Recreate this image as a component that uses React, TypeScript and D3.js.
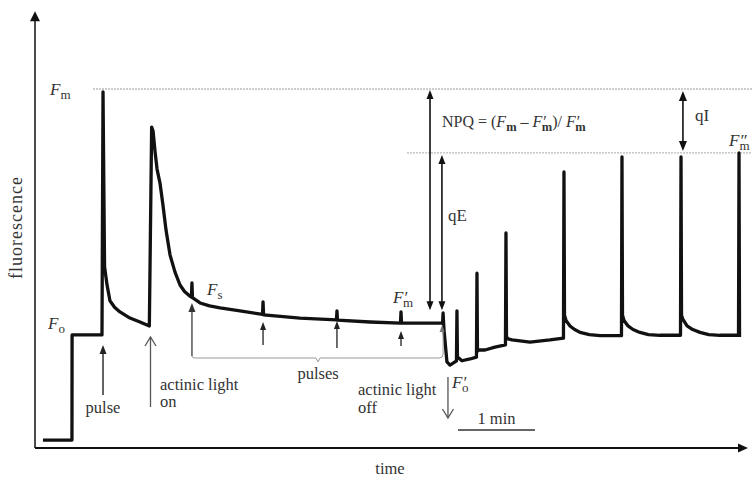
import React from "react";
import * as d3 from "d3";

// ---- data (time in s, fluorescence in % of Fm) ----
const traceT = [
  6.2, 28.8, 28.9, 52.2, 53.0, 54.2, 56.1, 58.4, 62.0, 66.2, 74.0, 81.8, 89.1,
  90.9, 92.0, 93.5, 95.1, 97.4, 99.7, 102.1, 105.2, 109.1, 113.0, 116.5, 120.8,
  121.9, 122.3, 122.7, 128.6, 136.0, 144.2, 159.7, 177.3, 177.7, 178.1, 206.5,
  234.9, 235.3, 235.7, 261.0, 284.8, 285.2, 285.6, 317.6, 318.0, 318.7,
  321.0, 323.4, 327.3, 328.4, 328.8, 329.2, 330.0, 332.7, 339.0, 344.0,
  344.4, 344.8, 346.0, 350.7, 358.4, 366.6, 367.0, 367.4, 368.6, 371.7,
  385.7, 401.3, 411.8, 412.2, 412.6, 413.8, 416.9, 420.5, 424.7, 432.0, 440.3, 457.0,
  457.4, 457.8, 459.0, 462.1, 466.0, 471.4, 478.0, 487.0, 503.0, 503.4, 503.8, 504.9,
  508.1, 512.5, 518.2, 525.0, 533.8, 548.2, 548.6, 549.0,
];
const traceF = [
  2.2, 2.2, 31.5, 31.5, 99.2, 50.5, 45.5, 41.0, 39.2, 37.9, 36.2, 35.1, 34.0,
  89.4, 88.3, 82.7, 77.7, 73.8, 67.7, 60.7, 53.8, 49.0, 45.4, 43.6, 42.3,
  42.0, 46.0, 41.9, 40.4, 39.6, 39.0, 38.2, 37.2, 40.7, 37.1, 36.2,
  35.7, 38.2, 35.6, 35.1, 34.8, 37.9, 34.8, 34.8, 37.6, 33.0,
  24.0, 23.1, 24.0, 24.2, 38.2, 25.0, 25.1, 24.3, 24.8, 25.3,
  48.7, 27.0, 27.3, 27.3, 28.1, 28.7, 59.9, 31.0, 30.4, 30.1,
  29.5, 30.1, 30.6, 76.9, 37.0, 35.5, 34.0, 33.0, 32.2, 31.6, 31.3, 31.3,
  81.1, 37.0, 35.5, 34.0, 33.0, 32.2, 31.6, 31.4, 31.4, 81.1, 37.0, 35.8,
  34.0, 33.0, 32.2, 31.6, 31.4, 31.4, 82.2, 30.9,
];

const levelFm = 100;
const levelFm2 = 82.2;
const tMax = 555.6;
const fMax = 121.4;

const pulseTimes = [53.0, 122.3, 177.7, 235.3, 285.2, 318.0];
const actinicOnT = 90.0;
const actinicOffT = 321.8;
const scaleBarStart = 329.6;
const scaleBarLen = 60;

const W = 752;
const H = 477;

const x = d3.scaleLinear().domain([0, tMax]).range([35, 748]);
const y = d3.scaleLinear().domain([0, levelFm]).range([448, 89]);

const serif = "'Liberation Serif', 'DejaVu Serif', serif";
const txt = "#333";
const grey = "#555";

function FilledHead({ x0, y0, dir, w = 7, l = 9, color = "#111" }: any) {
  let d = "";
  if (dir === "up") d = `M${x0},${y0} L${x0 - w / 2},${y0 + l} L${x0 + w / 2},${y0 + l} Z`;
  if (dir === "down") d = `M${x0},${y0} L${x0 - w / 2},${y0 - l} L${x0 + w / 2},${y0 - l} Z`;
  if (dir === "right") d = `M${x0},${y0} L${x0 - l},${y0 - w / 2} L${x0 - l},${y0 + w / 2} Z`;
  return <path d={d} fill={color} />;
}

function OpenHead({ x0, y0, dir, w = 11, l = 9, color = grey }: any) {
  const s = dir === "up" ? 1 : -1;
  const d = `M${x0 - w / 2},${y0 + s * l} L${x0},${y0} L${x0 + w / 2},${y0 + s * l}`;
  return <path d={d} fill="none" stroke={color} strokeWidth={1.3} />;
}

function Sym({ x0, y0, sub, prime = "", size = 17, subSize = 13, subDx = 0 }: any) {
  return (
    <text x={x0} y={y0} fontFamily={serif} fontSize={size} fill={txt}>
      <tspan fontStyle="italic">F{prime}</tspan>
      <tspan fontSize={subSize} dy={4} dx={subDx}>{sub}</tspan>
    </text>
  );
}

export default function App() {
  const pts = traceT.map((t, i) => [t, traceF[i]] as [number, number]);
  const line = d3
    .line<[number, number]>()
    .x((d) => x(d[0]))
    .y((d) => y(d[1]))
    .curve(d3.curveLinear);

  const xa0 = x(0);
  const ya0 = y(0);
  const yTop = y(fMax);
  const xEnd = x(tMax);

  const px = pulseTimes.map((t) => x(t));
  const npqX = x(307.8);
  const qeX = x(317.1);
  const qiX = x(504.9);
  const arrowBottom = y(38.4);

  const braceY = 358;

  return (
    <svg width={W} height={H} style={{ position: "absolute", left: 0, top: 0, background: "#fff" }}>
      {/* reference dotted lines */}
      <line x1={93} x2={W} y1={y(levelFm)} y2={y(levelFm)} stroke="#999" strokeWidth={1} strokeDasharray="2 1" />
      <line x1={407} x2={W} y1={y(levelFm2)} y2={y(levelFm2)} stroke="#aaa" strokeWidth={1} strokeDasharray="2 1" />

      {/* axes */}
      <line x1={xa0} x2={xa0} y1={ya0} y2={yTop + 8} stroke="#111" strokeWidth={1.5} />
      <FilledHead x0={xa0} y0={yTop - 1} dir="up" w={10} l={10} />
      <line x1={xa0} x2={xEnd - 8} y1={ya0} y2={ya0} stroke="#111" strokeWidth={1.8} />
      <FilledHead x0={xEnd} y0={ya0} dir="right" w={9} l={10} />

      {/* trace */}
      <path d={line(pts) || ""} fill="none" stroke="#111" strokeWidth={3.3} strokeLinejoin="round" />

      {/* pulse arrows */}
      <line x1={px[0]} x2={px[0]} y1={395} y2={352} stroke="#222" strokeWidth={1.4} />
      <FilledHead x0={px[0]} y0={345} dir="up" w={7} l={9} color="#222" />
      {/* bracket of pulses */}
      <path
        d={`M${px[1]},${308} V${braceY - 2} Q${px[1]},${braceY} ${px[1] + 3},${braceY} H${316} L${318},${braceY + 4} L${320},${braceY} H${px[5] - 4} Q${px[5]},${braceY} ${px[5]},${braceY - 4} V${332}`}
        fill="none"
        stroke="#999"
        strokeWidth={1}
      />
      <line x1={px[1]} x2={px[1]} y1={310} y2={356} stroke={grey} strokeWidth={1.3} />
      <FilledHead x0={px[1]} y0={303} dir="up" w={7} l={9} color="#333" />
      <line x1={px[2]} x2={px[2]} y1={330} y2={345} stroke="#222" strokeWidth={1.3} />
      <FilledHead x0={px[2]} y0={322} dir="up" w={6} l={8} color="#222" />
      <line x1={px[3]} x2={px[3]} y1={329} y2={348} stroke="#222" strokeWidth={1.3} />
      <FilledHead x0={px[3]} y0={321} dir="up" w={6} l={8} color="#222" />
      <line x1={px[4]} x2={px[4]} y1={338} y2={346} stroke="#222" strokeWidth={1.3} />
      <FilledHead x0={px[4]} y0={331} dir="up" w={6} l={8} color="#222" />
      <FilledHead x0={px[5] - 1} y0={325} dir="up" w={5} l={7} color="#777" />

      {/* actinic light on / off arrows */}
      <line x1={x(actinicOnT)} x2={x(actinicOnT)} y1={407} y2={337} stroke={grey} strokeWidth={1.3} />
      <OpenHead x0={x(actinicOnT)} y0={337} dir="up" />
      <line x1={x(actinicOffT)} x2={x(actinicOffT)} y1={377} y2={418} stroke={grey} strokeWidth={1.3} />
      <OpenHead x0={x(actinicOffT)} y0={418} dir="down" />

      {/* NPQ & qE & qI double arrows */}
      <line x1={npqX} x2={npqX} y1={y(levelFm) + 6} y2={arrowBottom - 6} stroke="#111" strokeWidth={1.6} />
      <FilledHead x0={npqX} y0={y(levelFm) + 1} dir="up" w={7} l={9} />
      <FilledHead x0={npqX} y0={arrowBottom} dir="down" w={7} l={9} />
      <line x1={qeX} x2={qeX} y1={y(levelFm2) + 6} y2={arrowBottom - 6} stroke="#111" strokeWidth={1.6} />
      <FilledHead x0={qeX} y0={y(levelFm2) + 2} dir="up" w={7} l={9} />
      <FilledHead x0={qeX} y0={arrowBottom} dir="down" w={7} l={9} />
      <line x1={qiX} x2={qiX} y1={y(levelFm) + 8} y2={y(levelFm2) - 8} stroke="#111" strokeWidth={1.6} />
      <FilledHead x0={qiX} y0={y(levelFm) + 2} dir="up" w={8} l={10} />
      <FilledHead x0={qiX} y0={y(levelFm2) - 2} dir="down" w={8} l={10} />

      {/* 1 min scale bar */}
      <line x1={x(scaleBarStart)} x2={x(scaleBarStart + scaleBarLen)} y1={430} y2={430} stroke="#333" strokeWidth={1.3} />
      <text x={(x(scaleBarStart) + x(scaleBarStart + scaleBarLen)) / 2} y={424} textAnchor="middle" fontFamily={serif} fontSize={16.5} fill={txt}>1 min</text>

      {/* symbols */}
      <Sym x0={50} y0={95} sub="m" />
      <Sym x0={48} y0={329} sub="o" />
      <Sym x0={207} y0={295} sub="s" />
      <Sym x0={393} y0={303} sub="m" prime="′" subDx={-4} />
      <Sym x0={452} y0={388} sub="o" prime="′" subDx={-4} />
      <Sym x0={729} y0={146} sub="m" prime="″" subDx={-7} />

      {/* NPQ formula */}
      <text x={442} y={127} fontFamily={serif} fontSize={16} fill={txt}>
        <tspan>NPQ = (</tspan>
        <tspan fontStyle="italic">F</tspan>
        <tspan fontSize={12.5} dy={4} fontWeight="bold">m</tspan>
        <tspan dy={-4}> – </tspan>
        <tspan fontStyle="italic">F′</tspan>
        <tspan fontSize={12.5} dy={4} dx={-4} fontWeight="bold">m</tspan>
        <tspan dy={-4}>)/ </tspan>
        <tspan fontStyle="italic">F′</tspan>
        <tspan fontSize={12.5} dy={4} dx={-4} fontWeight="bold">m</tspan>
      </text>
      <text x={695} y={121} fontFamily={serif} fontSize={17} fill={txt}>qI</text>
      <text x={448} y={221} fontFamily={serif} fontSize={17} fill={txt}>qE</text>

      {/* annotations */}
      <text x={px[0]} y={413} textAnchor="middle" fontFamily={serif} fontSize={16.5} fill={txt}>pulse</text>
      <text x={160} y={390} fontFamily={serif} fontSize={16.5} fill={txt}>actinic light</text>
      <text x={160} y={407} fontFamily={serif} fontSize={16.5} fill={txt}>on</text>
      <text x={318} y={379} textAnchor="middle" fontFamily={serif} fontSize={16.5} fill={txt}>pulses</text>
      <text x={358} y={395} fontFamily={serif} fontSize={16.5} fill={txt}>actinic light</text>
      <text x={358} y={413} fontFamily={serif} fontSize={16.5} fill={txt}>off</text>

      {/* axis titles */}
      <text x={390} y={474} textAnchor="middle" fontFamily={serif} fontSize={16.5} fill={txt}>time</text>
      <text transform={`translate(22,228) rotate(-90)`} textAnchor="middle" fontFamily={serif} fontSize={18} textLength={102} lengthAdjust="spacing" fill={txt}>fluorescence</text>
    </svg>
  );
}
